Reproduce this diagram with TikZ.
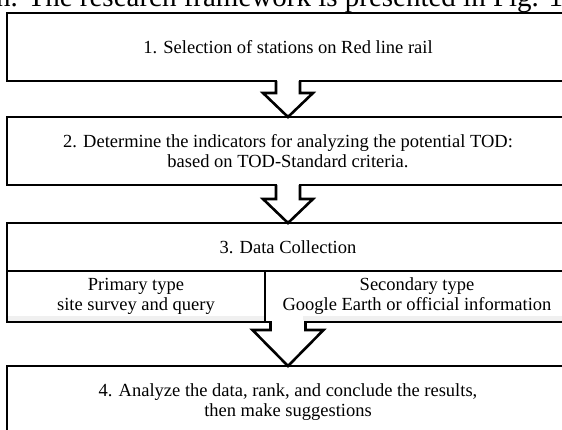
\documentclass[tikz,border=0pt]{standalone}
\usepackage{fontspec}
\setmainfont{Liberation Serif}
\usetikzlibrary{positioning}

\begin{document}
\begin{tikzpicture}[x=1pt,y=1pt]
\tikzset{flowbox/.style={rectangle,draw,line width=2.6pt,outer sep=0pt,minimum width=562pt,minimum height=68pt,align=center,font=\fontsize{18.5}{20}\selectfont}}
\tikzset{subbox/.style={flowbox,minimum height=51pt}}
\tikzset{blockarrow/.style={draw,line width=2.6pt,line join=miter}}
\useasboundingbox (0,0) rectangle (562,-430);
\clip (0,0) rectangle (562,-430);
\node[anchor=base west,inner sep=0pt,font=\fontsize{29}{30}\selectfont](caption) at (-4,-7){n. The research framework is presented in Fig. 1.};
\node[flowbox](a) at (288,-47){1. Selection of stations on Red line rail};
\node[flowbox](b)[below=36pt of a]{2. Determine the indicators for analyzing the potential TOD:\\based on TOD-Standard criteria.};
\node[flowbox,minimum height=48pt](c)[below=38pt of b]{3. Data Collection};
\node[subbox,minimum width=258pt,anchor=north west](cl) at (c.south west){Primary type\\site survey and query};
\node[subbox,minimum width=304pt,anchor=north east](cr) at (c.south east){Secondary type\\Google Earth or official information};
\fill[gray!12] ([xshift=1.3pt,yshift=6pt]cl.south west) rectangle ([xshift=-1.3pt,yshift=1.3pt]cl.south east);
\fill[gray!12] ([xshift=38pt,yshift=6pt]cr.south west) rectangle ([xshift=-1.3pt,yshift=1.3pt]cr.south east);
\coordinate (cbot) at (c.south |- cl.south);
\node[flowbox,minimum height=72pt](d)[below=44pt of cbot]{4. Analyze the data, rank, and conclude the results,\\then make suggestions};
% block arrows between the steps
\fill[white] ([xshift=-10.7pt,yshift=2pt]a.south) rectangle ([xshift=10.7pt,yshift=-2pt]a.south);
\draw[blockarrow] ([xshift=-12pt]a.south) -- ([xshift=-12pt,yshift=24pt]b.north) -- ++(-13,0) -- (b.north) -- ++(25,24) -- ++(-13,0) -- ([xshift=12pt]a.south);
\fill[white] ([xshift=-10.7pt,yshift=2pt]b.south) rectangle ([xshift=10.7pt,yshift=-2pt]b.south);
\draw[blockarrow] ([xshift=-12pt]b.south) -- ([xshift=-12pt,yshift=24pt]c.north) -- ++(-13,0) -- (c.north) -- ++(25,24) -- ++(-13,0) -- ([xshift=12pt]b.south);
\fill[white] ([xshift=-16.2pt,yshift=2pt]cbot) rectangle ([xshift=16.2pt,yshift=-2pt]cbot);
\draw[blockarrow] ([xshift=-17.5pt]cbot) -- ([xshift=-17.5pt,yshift=36pt]d.north) -- ++(-18,0) -- (d.north) -- ++(35.5,36) -- ++(-18,0) -- ([xshift=17.5pt]cbot);
\end{tikzpicture}
\end{document}
